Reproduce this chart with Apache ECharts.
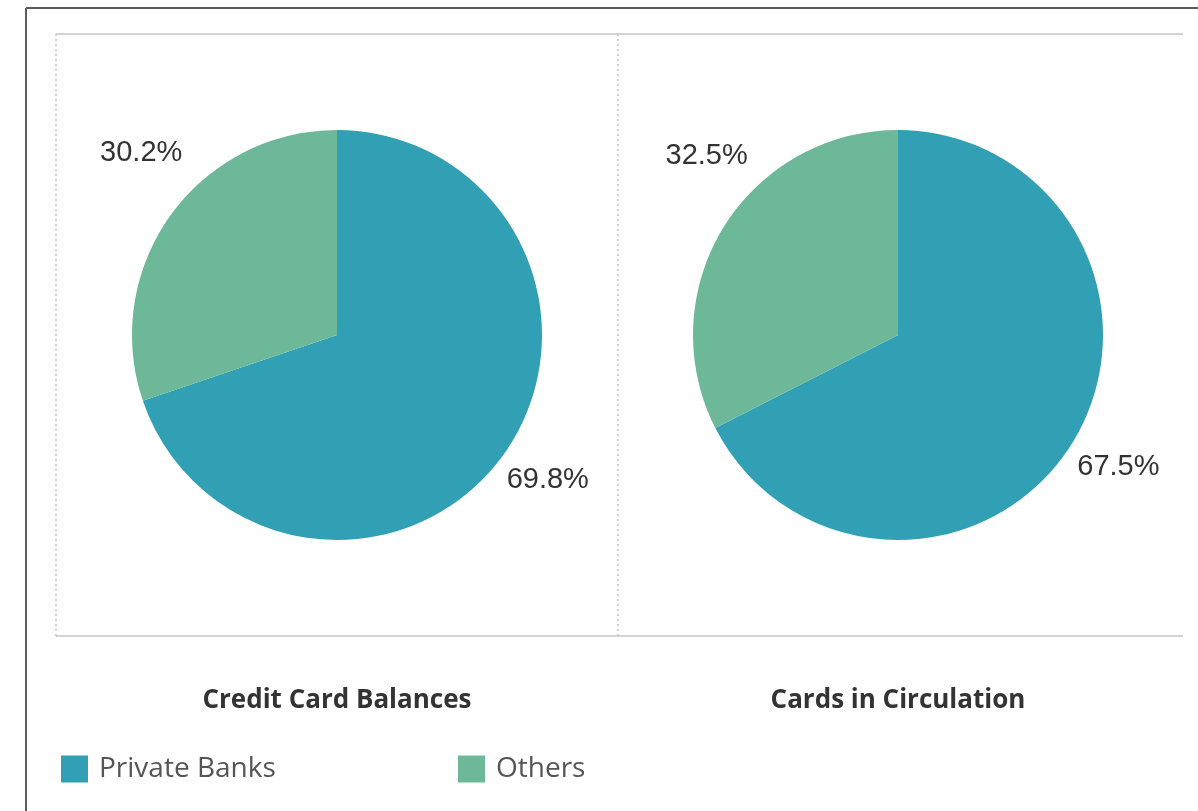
<!DOCTYPE html>
<html>
<head>
<meta charset="utf-8">
<style>
  html, body { margin: 0; padding: 0; background: #fff; }
  #main { width: 1198px; height: 811px; }
</style>
<script src="https://cdn.jsdelivr.net/npm/echarts@6/dist/echarts.min.js"></script>
</head>
<body>
<div id="main"></div>
<script>
// data
const categories = ["Private Banks", "Others"];
const balances = [69.8, 30.2];
const circulation = [67.5, 32.5];
const pieTitles = ["Credit Card Balances", "Cards in Circulation"];

const colors = ["#31a0b5", "#6db899"];
const centers = [[337, 335], [898, 335]];
const radius = 205;
// small nudges for the % labels, per pie and per slice
const labelShift = [
    [[-5, -10], [20, -27]],
    [[-6, -7], [35, -40]],
];

const toData = vals => vals.map((v, i) => ({ name: categories[i], value: v }));

const pieSeries = (vals, idx) => ({
    type: "pie",
    center: centers[idx],
    radius: radius,
    startAngle: 90,
    clockwise: true,
    silent: true,
    animation: false,
    label: { show: false },
    labelLine: { show: false },
    emphasis: { disabled: true },
    itemStyle: { borderWidth: 0 },
    color: colors,
    data: toData(vals),
});

// invisible ring just outside the pie, only to carry the % labels
const labelSeries = (vals, idx) => ({
    type: "pie",
    center: centers[idx],
    radius: [radius, radius + 115],
    startAngle: 90,
    clockwise: true,
    silent: true,
    animation: false,
    itemStyle: { color: "transparent" },
    emphasis: { disabled: true },
    labelLine: { show: false },
    label: {
        show: true,
        position: "inside",
        formatter: "{c}%",
        fontFamily: "Liberation Sans, Arial, sans-serif",
        fontSize: 29,
        color: "#333",
    },
    labelLayout: p => {
        const s = labelShift[idx][p.dataIndex];
        return { dx: s[0], dy: s[1] };
    },
    data: toData(vals),
});

const frame = [
    { type: "line", shape: { x1: 26, y1: 8, x2: 1198, y2: 8 }, style: { stroke: "#5c5c5c", lineWidth: 2 } },
    { type: "line", shape: { x1: 26, y1: 8, x2: 26, y2: 811 }, style: { stroke: "#5c5c5c", lineWidth: 2 } },
    { type: "line", shape: { x1: 56, y1: 34, x2: 1183, y2: 34 }, style: { stroke: "#d4d4d4", lineWidth: 2 } },
    { type: "line", shape: { x1: 56, y1: 636, x2: 1183, y2: 636 }, style: { stroke: "#d4d4d4", lineWidth: 2 } },
    { type: "line", shape: { x1: 56, y1: 34, x2: 56, y2: 636 }, style: { stroke: "#c4c4c4", lineWidth: 1.5, lineDash: [2, 3] } },
    { type: "line", shape: { x1: 618, y1: 34, x2: 618, y2: 636 }, style: { stroke: "#c4c4c4", lineWidth: 1.5, lineDash: [2, 3] } },
];

const legendBase = {
    top: 755,
    padding: 0,
    icon: "rect",
    itemWidth: 27,
    itemHeight: 27,
    selectedMode: false,
    textStyle: {
        fontFamily: "Open Sans, sans-serif",
        fontSize: 28,
        color: "#555",
        padding: [0, 0, 0, 6],
    },
};

const chart = echarts.init(document.getElementById("main"));
chart.setOption({
    backgroundColor: "#fff",
    animation: false,
    graphic: frame,
    title: pieTitles.map((t, i) => ({
        text: t,
        left: centers[i][0] - 5,
        top: 683,
        textAlign: "center",
        textStyle: {
            fontFamily: "Open Sans, sans-serif",
            fontWeight: "bold",
            fontSize: 26,
            color: "#333",
        },
    })),
    legend: [
        Object.assign({}, legendBase, { left: 61, data: [categories[0]] }),
        Object.assign({}, legendBase, { left: 458, data: [categories[1]] }),
    ],
    series: [
        pieSeries(balances, 0),
        pieSeries(circulation, 1),
        labelSeries(balances, 0),
        labelSeries(circulation, 1),
    ],
});
</script>
</body>
</html>
